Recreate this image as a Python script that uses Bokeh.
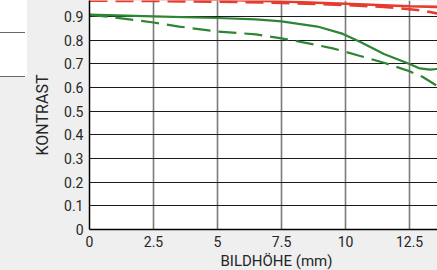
from bokeh.plotting import figure
from bokeh.models import FixedTicker, Range1d, Title
from bokeh.embed import file_html
from bokeh.resources import INLINE

# --- data ---
red_solid_x = [0, 2.5, 5, 7.5, 10, 12.5, 13.6]
red_solid_y = [0.975, 0.974, 0.970, 0.963, 0.953, 0.943, 0.940]

red_dash_x = [0, 2.5, 5, 7.5, 10, 11.5, 12.5, 13.0, 13.6]
red_dash_y = [0.966, 0.965, 0.962, 0.957, 0.948, 0.940, 0.930, 0.924, 0.912]

green_solid_x = [0, 2.5, 5, 6.5, 7.5, 8.9, 9.9, 10.6, 11.5, 12.5, 12.9, 13.3, 13.6]
green_solid_y = [0.907, 0.900, 0.893, 0.887, 0.879, 0.857, 0.826, 0.791, 0.741, 0.699, 0.680, 0.675, 0.678]

green_dash_x = [0, 1, 2.5, 3.5, 5, 6.5, 7.5, 8.5, 9.5, 10.5, 11.5, 12.5, 13.0, 13.6]
green_dash_y = [0.906, 0.895, 0.874, 0.857, 0.836, 0.824, 0.807, 0.787, 0.765, 0.735, 0.704, 0.668, 0.645, 0.605]

x_ticks = [0, 2.5, 5, 7.5, 10, 12.5]
x_tick_labels = ["0", "2.5", "5", "7.5", "10", "12.5"]
y_ticks = [0, 0.1, 0.2, 0.3, 0.4, 0.5, 0.6, 0.7, 0.8, 0.9]
y_tick_labels = ["0", "0.1", "0.2", "0.3", "0.4", "0.5", "0.6", "0.7", "0.8", "0.9"]

RED = "#e63b2e"
GREEN = "#2e8534"
FONT = "Roboto"
TXT = "#262626"

p = figure(frame_width=348, frame_height=229,
           x_range=Range1d(0, 13.59), y_range=Range1d(0, 0.967),
           output_backend="svg", toolbar_location=None,
           min_border_left=89, min_border_right=0, min_border_top=0, min_border_bottom=41)

# light grey page background with the cropped white legend box (top-left) drawn by CSS
p.styles = {
    "position": "absolute", "top": "0px", "left": "0px",
    "background-color": "#efefef",
    "background-image": "linear-gradient(#666666, #666666), linear-gradient(#666666, #666666), linear-gradient(#ffffff, #ffffff)",
    "background-size": "25px 1px, 25px 1px, 27px 77px",
    "background-position": "0px 32px, 0px 76px, 0px 0px",
    "background-repeat": "no-repeat",
}

p.background_fill_color = "white"
p.border_fill_color = None
p.outline_line_color = None

# axes
p.xaxis.ticker = FixedTicker(ticks=x_ticks)
p.yaxis.ticker = FixedTicker(ticks=y_ticks)
p.xaxis.major_label_overrides = dict(zip(x_ticks, x_tick_labels))
p.yaxis.major_label_overrides = dict(zip(y_ticks, y_tick_labels))
for ax in (p.xaxis, p.yaxis):
    ax.major_tick_in = 0
    ax.major_tick_out = 0
    ax.minor_tick_in = 0
    ax.minor_tick_out = 0
    ax.axis_line_color = "black"
    ax.axis_line_width = 1.5
    ax.major_label_text_font = FONT
    ax.major_label_text_font_size = "14px"
    ax.major_label_text_color = TXT
    ax.major_label_standoff = 6

p.yaxis.axis_label = "KONTRAST"
p.yaxis.axis_label_text_font = FONT
p.yaxis.axis_label_text_font_size = "16px"
p.yaxis.axis_label_text_font_style = "normal"
p.yaxis.axis_label_text_color = TXT
p.yaxis.axis_label_standoff = 9

# x axis title, placed like the reference (left edge near x=220)
p.add_layout(Title(text="BILDHÖHE (mm)", align="left", offset=131, standoff=0,
                   text_font=FONT, text_font_size="15px", text_font_style="normal",
                   text_color=TXT), "below")

# grid
p.ygrid.ticker = FixedTicker(ticks=y_ticks)
p.xgrid.ticker = FixedTicker(ticks=x_ticks)
p.ygrid.grid_line_color = "#1a1a1a"
p.ygrid.grid_line_width = 1.2
p.xgrid.grid_line_color = "#7a7a7a"
p.xgrid.grid_line_width = 1.6

# curves
p.line(red_solid_x, red_solid_y, line_color=RED, line_width=2.6)
p.line(red_dash_x, red_dash_y, line_color=RED, line_width=2.6, line_dash="18 8")
p.line(green_solid_x, green_solid_y, line_color=GREEN, line_width=2.2)
p.line(green_dash_x, green_dash_y, line_color=GREEN, line_width=2.2, line_dash="18 8")

open("out.html", "w").write(file_html(p, INLINE))
